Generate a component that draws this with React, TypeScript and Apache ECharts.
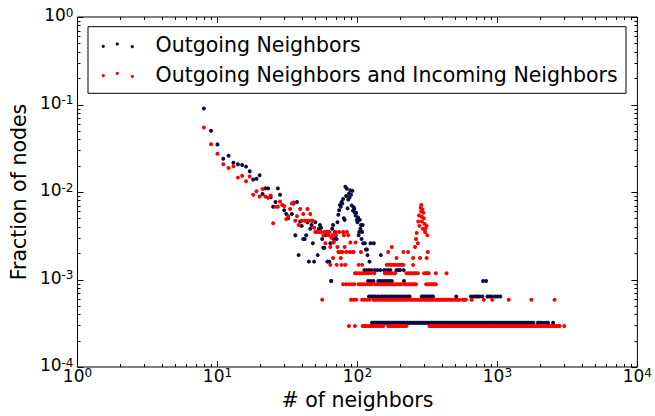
import React, { useEffect, useRef } from 'react';
import * as echarts from 'echarts';

const FONT = 'DejaVu Sans';

// ---- Outgoing Neighbors (dark navy) ----
const outHead: [number, number][] = [
  [8, 0.09], [9, 0.05], [10, 0.035], [11, 0.024], [12, 0.026], [13, 0.0216], [14, 0.0207], [15, 0.0203],
  [16, 0.0195], [17, 0.0173], [18, 0.0139], [19, 0.0142], [20, 0.0155], [21, 0.0095], [22, 0.011], [23, 0.011],
  [24, 0.0087], [25, 0.0068], [26, 0.0077], [27, 0.011], [28, 0.0093], [30, 0.0062], [31, 0.0056], [32, 0.005],
  [34, 0.0056], [35, 0.0074], [36, 0.0032], [37, 0.0077], [38, 0.0019], [39, 0.0046], [40, 0.0041], [41, 0.0029],
  [42, 0.0029], [43, 0.0032], [44, 0.0045], [45, 0.0016], [46, 0.0038], [47, 0.0042], [48, 0.0026], [49, 0.0016],
  [50, 0.0045], [51, 0.0035], [52, 0.0019], [53, 0.0038], [54, 0.0042], [55, 0.0039], [56, 0.0029], [57, 0.0023],
  [58, 0.0023], [59, 0.0032], [60, 0.0035], [61, 0.0016], [62, 0.0035], [63, 0.0016], [64, 0.0026], [65, 0.00096],
  [66, 0.0038], [67, 0.0042], [68, 0.0029], [69, 0.0035], [70, 0.0032], [71, 0.0029], [72, 0.0045], [73, 0.0055],
  [74, 0.0062], [75, 0.0071], [76, 0.0068], [77, 0.0077], [78, 0.0074], [79, 0.0083], [80, 0.005], [81, 0.0048],
  [82, 0.0115], [83, 0.009], [84, 0.0109], [85, 0.0065], [86, 0.0082], [87, 0.0096], [88, 0.0087], [89, 0.0105],
  [90, 0.0093], [91, 0.007], [92, 0.0103], [93, 0.0061], [94, 0.0067], [95, 0.0064], [96, 0.0058], [97, 0.0054],
  [98, 0.0058], [99, 0.0048], [100, 0.0045], [101, 0.0051], [102, 0.0032], [103, 0.0035], [104, 0.0048],
  [105, 0.0038], [106, 0.0042], [107, 0.0029], [108, 0.0035], [109, 0.0042], [110, 0.0026], [113, 0.0026],
  [115, 0.0022], [117, 0.0022], [118, 0.0019], [122, 0.0016], [124, 0.0026], [131, 0.0026], [147, 0.0019],
];
const outLevels = [3.2e-4, 6.4e-4, 9.6e-4, 1.28e-3];
const outRow1X = [
  127, 129, 132, 134, 137, 139, 142, 145, 148, 151, 154, 157, 160, 163, 167, 170, 174, 178, 182, 186, 190, 194,
  198, 203, 208, 213, 218, 223, 228, 234, 240, 246, 252, 258, 264, 271, 278, 285, 292, 299, 307, 315, 323, 331,
  340, 349, 358, 367, 377, 387, 397, 408, 419, 430, 442, 454, 466, 479, 492, 505, 519, 533, 548, 563, 578, 594,
  610, 627, 644, 662, 680, 699, 718, 738, 758, 779, 800, 822, 845, 868, 892, 917, 942, 968, 995, 1022, 1050,
  1080, 1110, 1140, 1172, 1205, 1238, 1272, 1307, 1343, 1380, 1418, 1457, 1497, 1538, 1580, 1625, 1670, 1715,
  1760, 1810, 1950, 2000, 2060, 2150, 2250, 2300, 2500,
];
const outRow2X = [
  121, 125, 129, 134, 140, 146, 151, 157, 163, 170, 176, 183, 190, 198, 206, 214, 222, 230, 236, 288, 295, 302,
  312, 320, 330, 340, 347, 508, 648, 675, 700, 720, 745, 780, 850, 880, 910, 960, 1000, 1050,
];
const outRow3X = [65, 119, 124, 130, 141, 146, 152, 158, 164, 170, 176, 215, 790, 830];
const outRow4X = [112, 116, 121, 126, 133, 139, 146, 155, 160, 166, 172, 190, 196, 202, 214];

// ---- Outgoing Neighbors and Incoming Neighbors (red) ----
const inHead: [number, number][] = [
  [8, 0.0546], [9, 0.0352], [10, 0.0273], [11, 0.0208], [12, 0.0188], [13, 0.0197], [14, 0.0146], [15, 0.0153],
  [16, 0.0133], [17, 0.015], [18, 0.0093], [19, 0.0102], [20, 0.0089], [21, 0.0108], [22, 0.0089], [23, 0.0086],
  [24, 0.0091], [25, 0.0044], [26, 0.0068], [27, 0.0068], [28, 0.0078], [29, 0.0071], [30, 0.0069], [31, 0.0049],
  [32, 0.0053], [33, 0.0064], [34, 0.0074], [35, 0.0076], [36, 0.0047], [37, 0.0053], [38, 0.0042], [39, 0.0064],
  [40, 0.0047], [41, 0.0056], [42, 0.0047], [43, 0.0047], [44, 0.0064], [45, 0.0047], [46, 0.0056], [47, 0.0047],
  [48, 0.0047], [49, 0.0039], [50, 0.0035], [51, 0.0035], [53, 0.0035], [55, 0.0035], [57, 0.0032], [58, 0.0035],
  [59, 0.0026], [60, 0.0035], [61, 0.0035], [62, 0.0032], [63, 0.0035], [65, 0.003], [66, 0.0032], [68, 0.0027],
  [69, 0.0032], [70, 0.0035], [74, 0.0035], [79, 0.0035], [80, 0.0032], [84, 0.0035], [86, 0.0032],
];
const inPeak: [number, number][] = [
  [262, 0.0029], [265, 0.0034], [270, 0.0026], [272, 0.0046], [275, 0.0054], [277, 0.0041], [283, 0.0066],
  [285, 0.006], [286, 0.0071], [288, 0.0052], [289, 0.0046], [291, 0.0063], [293, 0.0038], [296, 0.0058],
  [298, 0.005], [302, 0.0043], [304, 0.0035], [306, 0.0038], [312, 0.0041], [315, 0.0032],
];
const inLevels = [2.94e-4, 5.88e-4, 8.82e-4, 1.18e-3, 1.47e-3, 1.76e-3, 2.06e-3, 2.35e-3, 2.65e-3];
const inRow1X = [
  87, 96, 109, 112, 115, 119, 123, 127, 131, 135, 139, 144, 149, 153, 166, 170, 175, 180, 185, 190, 195, 200,
  206, 212, 218, 224, 327, 335, 343, 352, 361, 370, 380, 390, 400, 411, 422, 433, 445, 457, 469, 482, 495, 508,
  522, 536, 550, 565, 580, 596, 612, 628, 645, 662, 680, 698, 717, 736, 756, 776, 797, 818, 840, 863, 886, 910,
  934, 959, 985, 1011, 1038, 1066, 1095, 1124, 1154, 1185, 1217, 1250, 1283, 1318, 1353, 1390, 1427, 1465, 1505,
  1545, 1587, 1630, 1673, 1718, 1765, 1812, 1860, 1910, 1962, 2015, 2070, 2125, 2180, 2240, 2300, 2360, 2420,
  2480, 2550, 2620, 2700, 2780, 3000,
];
const inRow2X = [
  56, 90, 94, 98, 108, 112, 117, 122, 130, 134, 138, 143, 148, 153, 158, 163, 168, 174, 180, 186, 192, 198, 205,
  212, 219, 226, 234, 242, 250, 258, 266, 275, 284, 293, 302, 310, 318, 328, 338, 348, 358, 368, 380, 392, 404,
  416, 430, 444, 458, 472, 488, 504, 520, 535, 564, 580, 595, 655, 800, 920, 1205, 1750, 2560,
];
const inRow3X = [
  79, 83, 87, 91, 95, 102, 106, 110, 114, 119, 123, 127, 134, 139, 144, 149, 155, 161, 167, 173, 179, 186, 193,
  200, 206, 218, 225, 232, 240, 248, 255, 262, 310, 320, 331, 342, 352, 363,
];
const inRow4X = [
  96, 99, 103, 107, 111, 115, 120, 125, 132, 157, 163, 169, 175, 181, 186, 224, 232, 240, 248, 256, 263, 270,
  300, 308, 316, 323, 363, 433,
];
const inRow5X = [64, 71, 77, 82, 102, 108, 162, 168, 174, 180, 186, 193, 200, 206, 213, 250];
const inRow6X = [67, 76, 190, 250, 280, 312];
const inRow7X = [73, 75, 78, 83, 88, 91, 94, 106, 166, 213, 230, 318];
const inRow8X = [64, 72, 81, 176, 258];
const inRow9X = [67, 89, 97];

const legendLabels = ['Outgoing Neighbors', 'Outgoing Neighbors and Incoming Neighbors'];
const BLACK = '#0c0c3e';
const RED = '#ff0000';

const rowsToPoints = (rows: number[][], levels: number[]) =>
  rows.flatMap((xs, i) => xs.map((x) => [x, levels[i]]));

const outData = [
  ...outHead,
  ...rowsToPoints([outRow1X, outRow2X, outRow3X, outRow4X], outLevels),
];
const inData = [
  ...inHead,
  ...inPeak,
  ...rowsToPoints(
    [inRow1X, inRow2X, inRow3X, inRow4X, inRow5X, inRow6X, inRow7X, inRow8X, inRow9X],
    inLevels,
  ),
];

// tick positions (decades and 2..9 minors)
const xTicks: number[][] = [];
for (let e = 0; e <= 4; e++) {
  const base = Math.pow(10, e);
  xTicks.push([base, 0.01, 1]);
  if (e < 4) for (let m = 2; m <= 9; m++) xTicks.push([base * m, 0.01, 0]);
}
const yTicks: number[][] = [];
for (let e = -4; e <= 0; e++) {
  const base = Math.pow(10, e);
  yTicks.push([10, base, 1]);
  if (e < 0) for (let m = 2; m <= 9; m++) yTicks.push([10, base * m, 0]);
}

const tickStyle = { stroke: '#000', lineWidth: 1 };

const expLabel = (v: number) => {
  const e = Math.round(Math.log10(v));
  return `{b|10}{s|${e}}`;
};

export default function App() {
  const ref = useRef<HTMLDivElement>(null);
  useEffect(() => {
    const chart = echarts.init(ref.current!, null, { renderer: 'svg' });
    const option: any = {
      animation: false,
      backgroundColor: '#fff',
      textStyle: { fontFamily: FONT },
      grid: {
        left: 74,
        top: 17,
        width: 566,
        height: 350,
        show: true,
        borderColor: '#000',
        borderWidth: 1,
        backgroundColor: 'transparent',
      },
      xAxis: {
        type: 'log',
        logBase: 10,
        min: 1,
        max: 10000,
        name: '# of neighbors',
        nameLocation: 'middle',
        nameGap: 22,
        nameTextStyle: { fontFamily: FONT, fontSize: 20.5, color: '#000' },
        axisLine: { show: false },
        axisTick: { show: false },
        splitLine: { show: false },
        axisLabel: {
          margin: 0,
          formatter: expLabel,
          rich: {
            b: { fontFamily: FONT, fontSize: 17, lineHeight: 17, color: '#000', padding: [4, 0, 0, 0], verticalAlign: 'bottom' },
            s: { fontFamily: FONT, fontSize: 12, lineHeight: 12, color: '#000', verticalAlign: 'top' },
          },
        },
      },
      yAxis: {
        type: 'log',
        logBase: 10,
        min: 0.0001,
        max: 1,
        name: 'Fraction of nodes',
        nameLocation: 'middle',
        nameGap: 40,
        nameTextStyle: { fontFamily: FONT, fontSize: 20.5, color: '#000' },
        axisLine: { show: false },
        axisTick: { show: false },
        splitLine: { show: false },
        axisLabel: {
          margin: 4,
          padding: [0, 0, 4, 0],
          formatter: expLabel,
          rich: {
            b: { fontFamily: FONT, fontSize: 17, lineHeight: 17, color: '#000', padding: [4, 0, 0, 0], verticalAlign: 'bottom' },
            s: { fontFamily: FONT, fontSize: 12, lineHeight: 12, color: '#000', verticalAlign: 'top' },
          },
        },
      },
      series: [
        {
          type: 'scatter',
          name: legendLabels[0],
          data: outData,
          symbol: 'circle',
          symbolSize: 4,
          itemStyle: { color: BLACK, opacity: 1 },
          z: 3,
        },
        {
          type: 'scatter',
          name: legendLabels[1],
          data: inData,
          symbol: 'circle',
          symbolSize: 4,
          itemStyle: { color: RED, opacity: 1 },
          z: 4,
        },
        {
          type: 'custom',
          silent: true,
          data: xTicks,
          encode: { x: 0, y: 1 },
          z: 5,
          renderItem: (params: any, api: any) => {
            const v = api.value(0);
            const major = api.value(2) === 1;
            const p = api.coord([v, 0.01]);
            const cs = params.coordSys;
            const len = major ? 6 : 3;
            const x = Math.round(p[0]) + 0.5;
            const yb = cs.y + cs.height;
            return {
              type: 'group',
              children: [
                { type: 'line', shape: { x1: x, y1: yb, x2: x, y2: yb - len }, style: tickStyle },
                { type: 'line', shape: { x1: x, y1: cs.y, x2: x, y2: cs.y + len }, style: tickStyle },
              ],
            };
          },
        },
        {
          type: 'custom',
          silent: true,
          data: yTicks,
          encode: { x: 0, y: 1 },
          z: 5,
          renderItem: (params: any, api: any) => {
            const v = api.value(1);
            const major = api.value(2) === 1;
            const p = api.coord([10, v]);
            const cs = params.coordSys;
            const len = major ? 6 : 3;
            const y = Math.round(p[1]) + 0.5;
            const xr = cs.x + cs.width;
            return {
              type: 'group',
              children: [
                { type: 'line', shape: { x1: cs.x, y1: y, x2: cs.x + len, y2: y }, style: tickStyle },
                { type: 'line', shape: { x1: xr, y1: y, x2: xr - len, y2: y }, style: tickStyle },
              ],
            };
          },
        },
      ],
      graphic: [
        {
          type: 'group',
          z: 100,
          children: [
            { type: 'rect', shape: { x: 88, y: 26.7, width: 538, height: 66.6 }, style: { fill: '#fff', stroke: '#000', lineWidth: 1 } },
            { type: 'circle', shape: { cx: 103.3, cy: 46.3, r: 1.6 }, style: { fill: BLACK } },
            { type: 'circle', shape: { cx: 117.3, cy: 44, r: 1.6 }, style: { fill: BLACK } },
            { type: 'circle', shape: { cx: 132.3, cy: 46.7, r: 1.6 }, style: { fill: BLACK } },
            { type: 'circle', shape: { cx: 103.3, cy: 75.7, r: 1.6 }, style: { fill: RED } },
            { type: 'circle', shape: { cx: 117.3, cy: 73.3, r: 1.6 }, style: { fill: RED } },
            { type: 'circle', shape: { cx: 132.3, cy: 76.3, r: 1.6 }, style: { fill: RED } },
            { type: 'text', x: 155.5, y: 45.3, style: { text: legendLabels[0], fontFamily: FONT, fontSize: 20.5, fill: '#000', verticalAlign: 'middle' } },
            { type: 'text', x: 155.5, y: 74.5, style: { text: legendLabels[1], fontFamily: FONT, fontSize: 20.5, fill: '#000', verticalAlign: 'middle' } },
          ],
        },
      ],
    };
    chart.setOption(option);
    return () => chart.dispose();
  }, []);
  return <div ref={ref} style={{ position: 'fixed', left: 0, top: 0, width: 655, height: 416 }} />;
}
